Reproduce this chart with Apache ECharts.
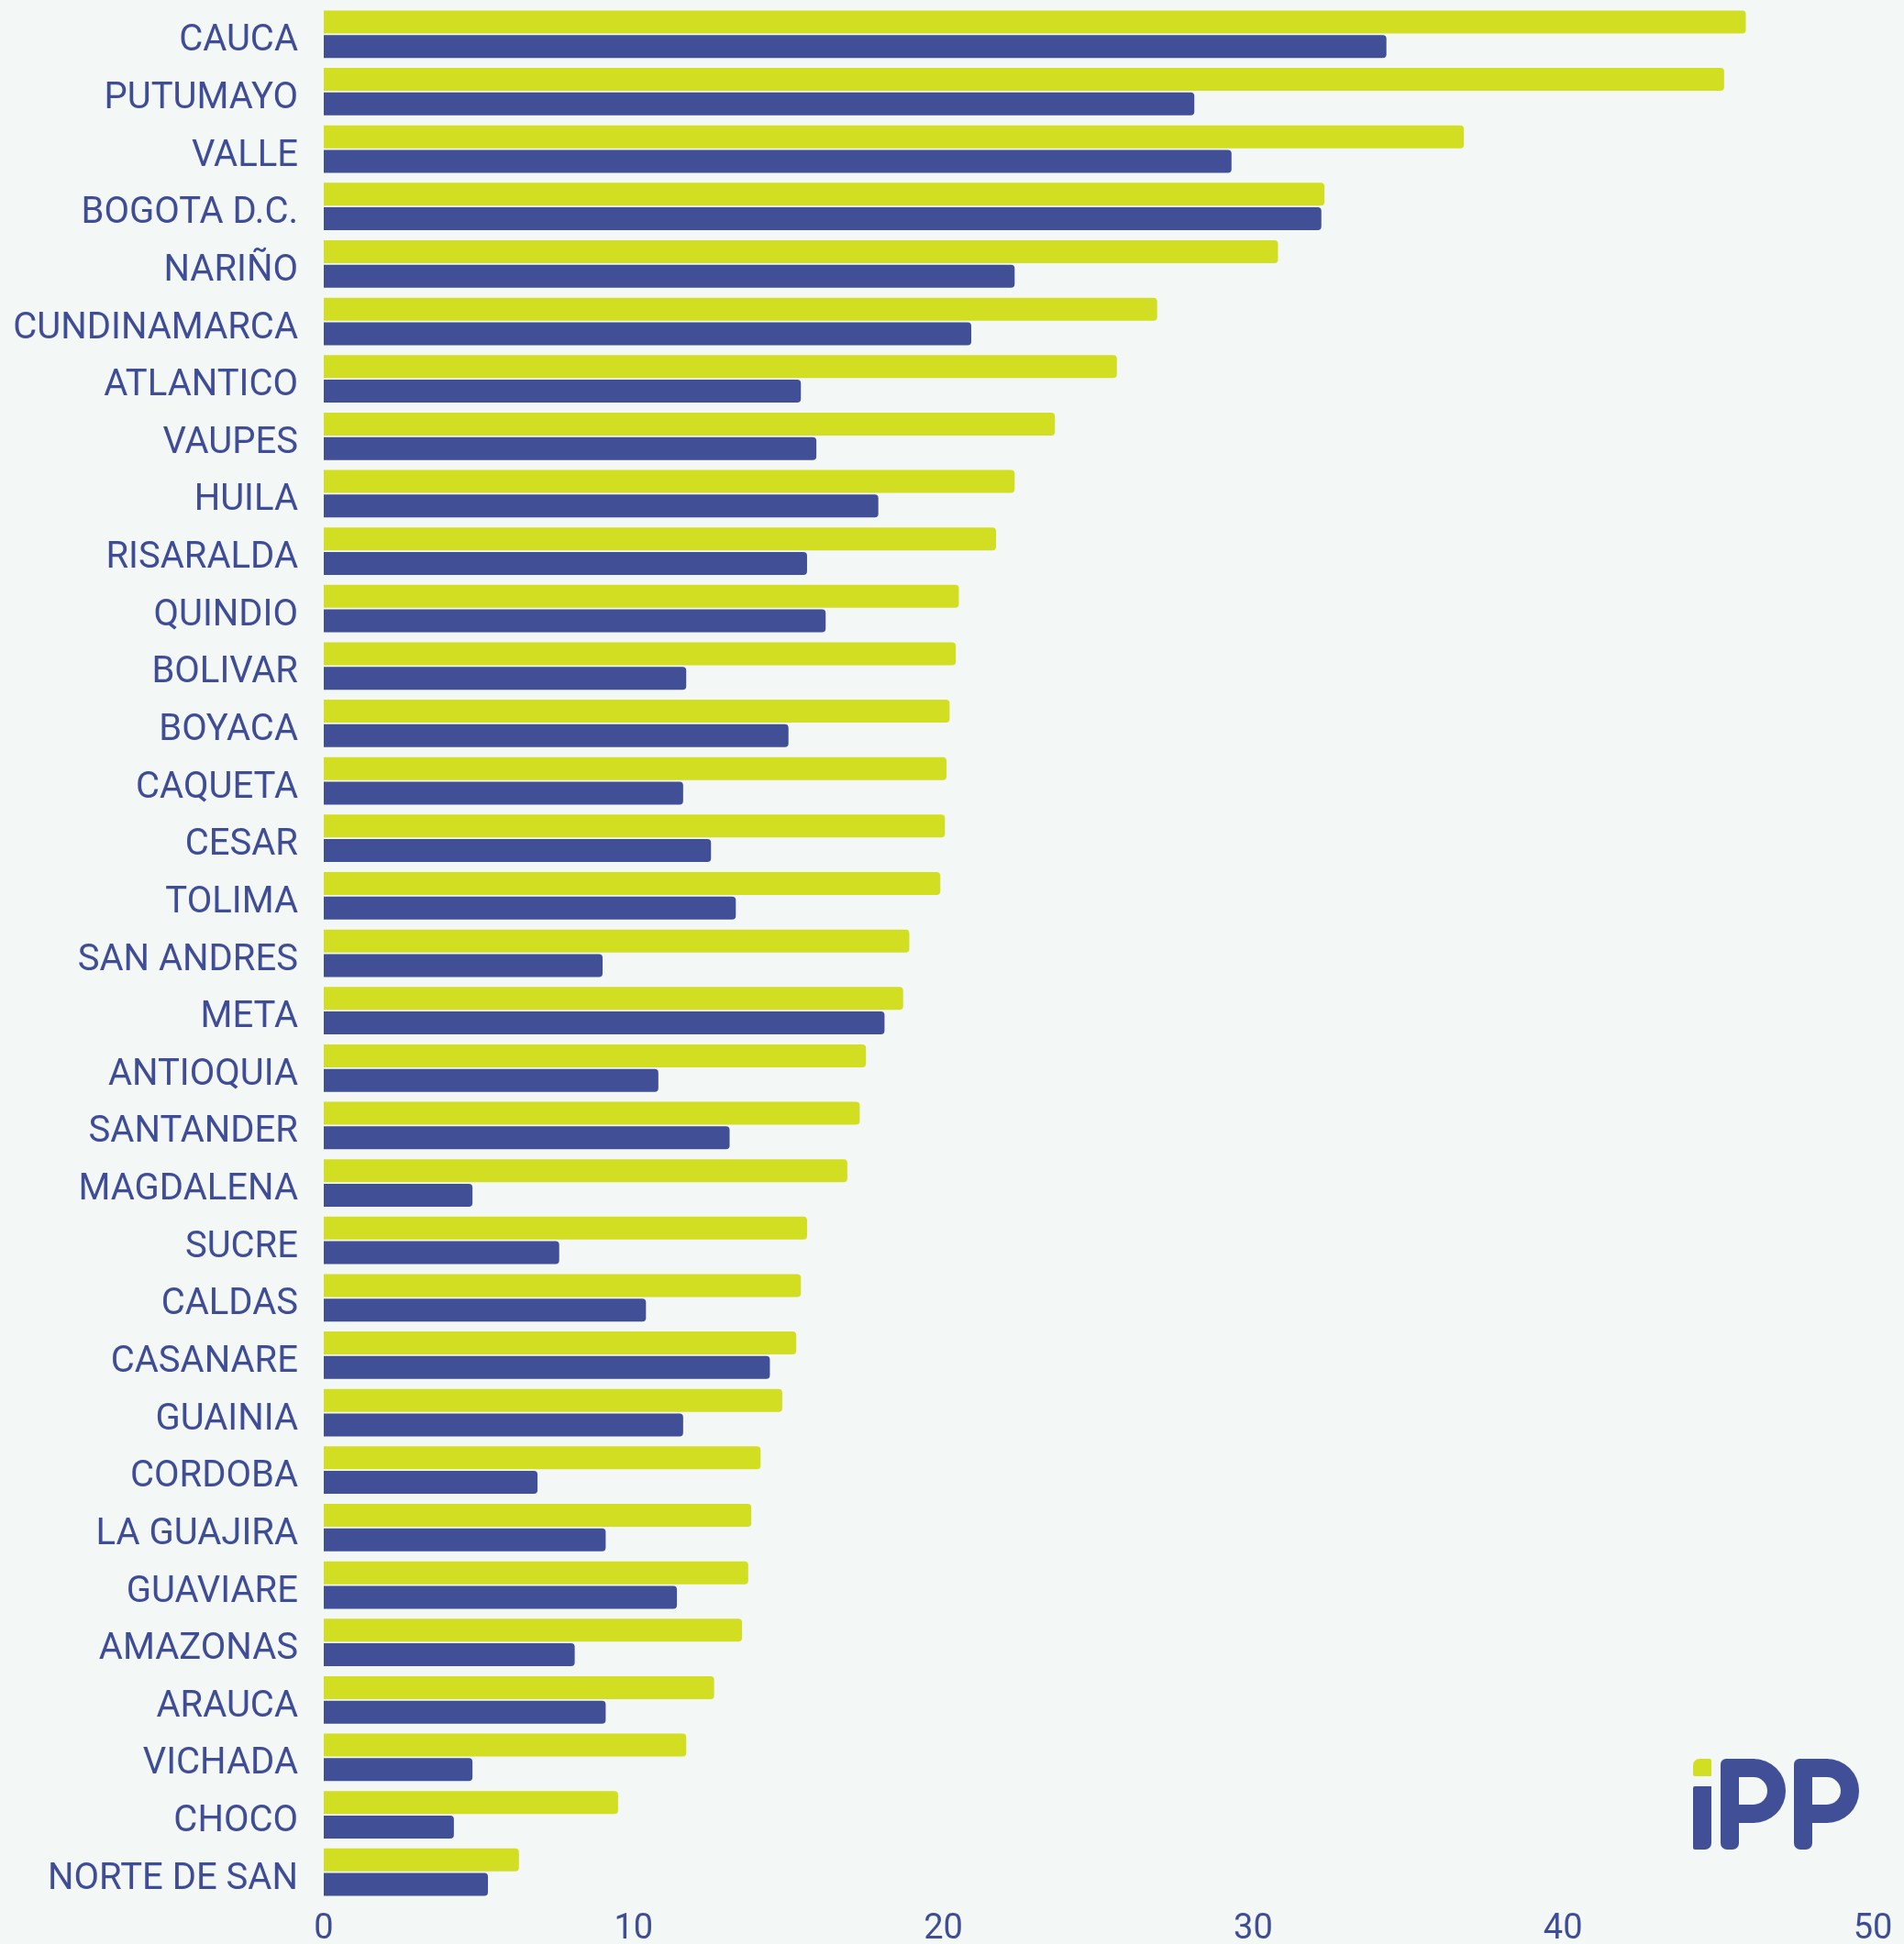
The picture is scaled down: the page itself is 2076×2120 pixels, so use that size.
<!DOCTYPE html>
<html>
<head>
<meta charset="utf-8">
<script src="https://cdn.jsdelivr.net/npm/echarts@6/dist/echarts.min.js"></script>
<style>
  html, body { margin: 0; padding: 0; background: #f3f7f6; }
  #chart { width: 2076px; height: 2120px; }
</style>
</head>
<body>
<div id="chart"></div>
<script>
// departamentos, top to bottom
const departamentos = ['CAUCA', 'PUTUMAYO', 'VALLE', 'BOGOTA D.C.', 'NARIÑO', 'CUNDINAMARCA',
  'ATLANTICO', 'VAUPES', 'HUILA', 'RISARALDA', 'QUINDIO', 'BOLIVAR', 'BOYACA', 'CAQUETA',
  'CESAR', 'TOLIMA', 'SAN ANDRES', 'META', 'ANTIOQUIA', 'SANTANDER', 'MAGDALENA', 'SUCRE',
  'CALDAS', 'CASANARE', 'GUAINIA', 'CORDOBA', 'LA GUAJIRA', 'GUAVIARE', 'AMAZONAS', 'ARAUCA',
  'VICHADA', 'CHOCO', 'NORTE DE SAN']

const valoresVerde = [45.9, 45.2, 36.8, 32.3, 30.8, 26.9, 25.6, 23.6, 22.3, 21.7, 20.5, 20.4,
  20.2, 20.1, 20.05, 19.9, 18.9, 18.7, 17.5, 17.3, 16.9, 15.6, 15.4, 15.25, 14.8, 14.1, 13.8,
  13.7, 13.5, 12.6, 11.7, 9.5, 6.3]

const valoresAzul = [34.3, 28.1, 29.3, 32.2, 22.3, 20.9, 15.4, 15.9, 17.9, 15.6, 16.2, 11.7,
  15.0, 11.6, 12.5, 13.3, 9.0, 18.1, 10.8, 13.1, 4.8, 7.6, 10.4, 14.4, 11.6, 6.9, 9.1, 11.4,
  8.1, 9.1, 4.8, 4.2, 5.3]

const ticksX = [0, 10, 20, 30, 40, 50]

const verde = '#d2de22'
const azul = '#414f97'
const textoColor = '#3f4c96'

// letra P del logo, hecha con piezas simples (71 x 99)
function letraP(x, y) {
  return {
    type: 'group',
    x: x,
    y: y,
    children: [
      { type: 'rect', shape: { x: 0, y: 0, width: 20, height: 99, r: [6, 0, 7, 7] }, style: { fill: azul } },
      { type: 'rect', shape: { x: 19, y: 0, width: 18, height: 20 }, style: { fill: azul } },
      { type: 'rect', shape: { x: 19, y: 50, width: 18, height: 20 }, style: { fill: azul } },
      { type: 'sector', shape: { cx: 36, cy: 35, r: 35, r0: 15, startAngle: -Math.PI / 2, endAngle: Math.PI / 2 }, style: { fill: azul } }
    ]
  }
}

const myChart = echarts.init(document.getElementById('chart'), null, { renderer: 'canvas' })

const option = {
  backgroundColor: '#f3f7f6',
  animation: false,
  grid: { left: 353, right: 34, top: 6, bottom: 47, containLabel: false, outerBoundsMode: 'none' },
  xAxis: {
    type: 'value',
    min: ticksX[0],
    max: ticksX[ticksX.length - 1],
    interval: 10,
    axisLine: { show: false },
    axisTick: { show: false },
    splitLine: { show: false },
    axisLabel: { color: textoColor, fontFamily: 'Roboto', fontSize: 38, margin: 12 }
  },
  yAxis: {
    type: 'category',
    data: departamentos,
    inverse: true,
    axisLine: { show: false },
    axisTick: { show: false },
    axisLabel: {
      margin: 28,
      formatter: '{t|{value}}',
      rich: {
        t: { color: textoColor, fontFamily: 'Roboto', fontSize: 40, lineHeight: 46, padding: [16, 0, 0, 0] }
      }
    }
  },
  series: [
    {
      name: 'verde',
      type: 'bar',
      data: valoresVerde,
      barWidth: 25,
      barGap: '7%',
      itemStyle: { color: verde, borderRadius: [0, 4, 4, 0] }
    },
    {
      name: 'azul',
      type: 'bar',
      data: valoresAzul,
      barWidth: 25,
      itemStyle: { color: azul, borderRadius: [0, 4, 4, 0] }
    }
  ],
  graphic: [
    { type: 'rect', shape: { x: 1846, y: 1918, width: 20, height: 19, r: [7, 2, 0, 2] }, style: { fill: verde } },
    { type: 'rect', shape: { x: 1846, y: 1948, width: 20, height: 69, r: [2, 0, 7, 2] }, style: { fill: azul } },
    letraP(1876, 1918),
    letraP(1956, 1918)
  ]
}

myChart.setOption(option)
window.addEventListener('resize', myChart.resize)
</script>
</body>
</html>
